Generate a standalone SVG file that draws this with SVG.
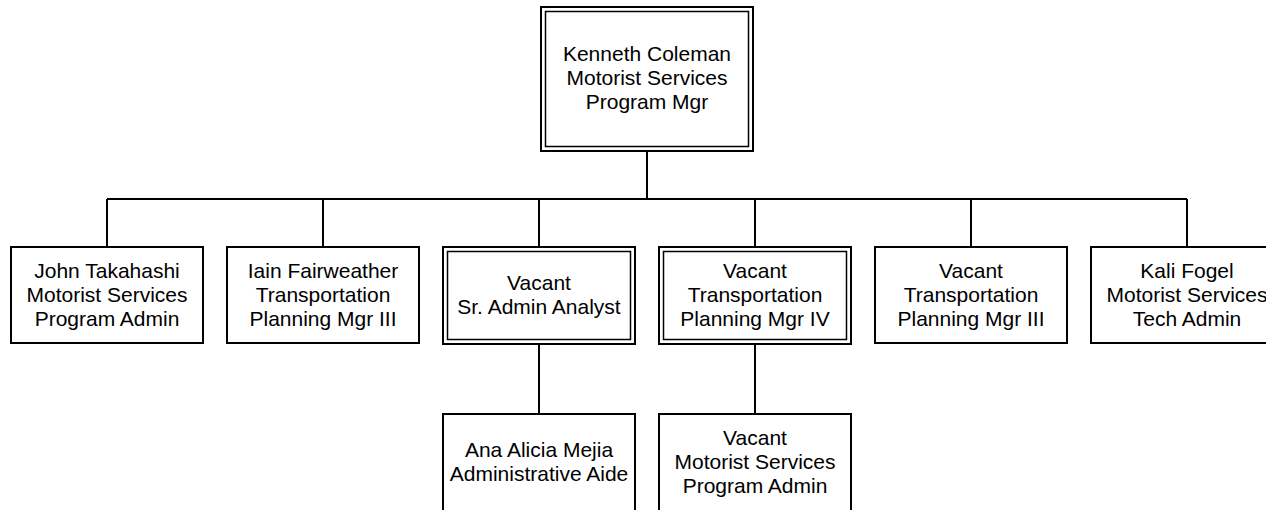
<svg xmlns="http://www.w3.org/2000/svg" width="1266" height="510" viewBox="0 0 1266 510">
<style>
.box{fill:#fff;stroke:#000;stroke-width:2}
.inner{fill:none;stroke:#000;stroke-width:1.5}
.conn{fill:none;stroke:#000;stroke-width:2}
text{font-family:"Liberation Sans",Arial,sans-serif;font-size:21px;fill:#000;text-anchor:middle}
</style>
<rect width="1266" height="510" fill="#fff"/>
<g id="connectors">
<path class="conn" d="M647 151V199M107 199H1187M107 199V247M323 199V247M539 199V247M755 199V247M971 199V247M1187 199V247M539 344V414M755 344V414"/>
</g>
<g id="n-kenneth">
<rect class="box" x="541" y="7" width="212" height="144"/>
<rect class="inner" x="545.5" y="11.5" width="203" height="135"/>
<text x="647" y="61">Kenneth Coleman</text>
<text x="647" y="85">Motorist Services</text>
<text x="647" y="109">Program Mgr</text>
</g>
<g id="n-john">
<rect class="box" x="11" y="247" width="192" height="96"/>
<text x="107" y="278">John Takahashi</text>
<text x="107" y="302">Motorist Services</text>
<text x="107" y="326">Program Admin</text>
</g>
<g id="n-iain">
<rect class="box" x="227" y="247" width="192" height="96"/>
<text x="323" y="278">Iain Fairweather</text>
<text x="323" y="302">Transportation</text>
<text x="323" y="326">Planning Mgr III</text>
</g>
<g id="n-vacant-sraa">
<rect class="box" x="443" y="247" width="192" height="97"/>
<rect class="inner" x="447.5" y="251.5" width="183" height="88"/>
<text x="539" y="290">Vacant</text>
<text x="539" y="314">Sr. Admin Analyst</text>
</g>
<g id="n-vacant-tpm4">
<rect class="box" x="659" y="247" width="192" height="97"/>
<rect class="inner" x="663.5" y="251.5" width="183" height="88"/>
<text x="755" y="278">Vacant</text>
<text x="755" y="302">Transportation</text>
<text x="755" y="326">Planning Mgr IV</text>
</g>
<g id="n-vacant-tpm3">
<rect class="box" x="875" y="247" width="192" height="96"/>
<text x="971" y="278">Vacant</text>
<text x="971" y="302">Transportation</text>
<text x="971" y="326">Planning Mgr III</text>
</g>
<g id="n-kali">
<rect class="box" x="1091" y="247" width="192" height="96"/>
<text x="1187" y="278">Kali Fogel</text>
<text x="1187" y="302">Motorist Services</text>
<text x="1187" y="326">Tech Admin</text>
</g>
<g id="n-ana">
<rect class="box" x="443" y="414" width="192" height="97"/>
<text x="539" y="457">Ana Alicia Mejia</text>
<text x="539" y="481">Administrative Aide</text>
</g>
<g id="n-vacant-mspa">
<rect class="box" x="659" y="414" width="192" height="97"/>
<text x="755" y="445">Vacant</text>
<text x="755" y="469">Motorist Services</text>
<text x="755" y="493">Program Admin</text>
</g>
</svg>
